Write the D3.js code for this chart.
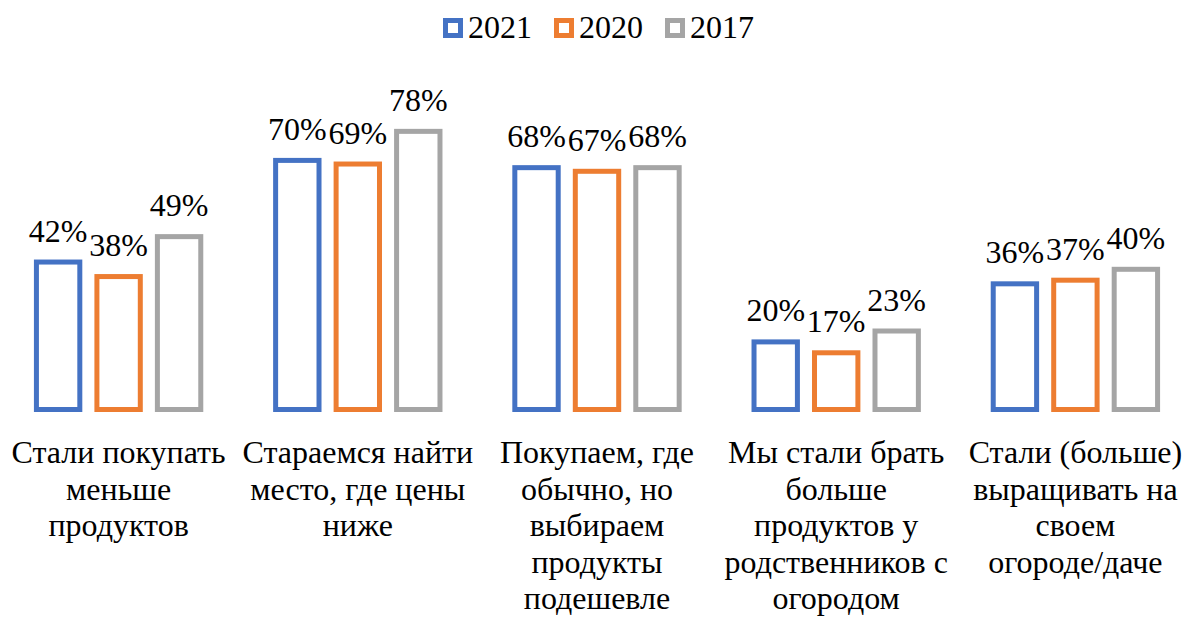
<!DOCTYPE html>
<html>
<head>
<meta charset="utf-8">
<script src="https://cdn.jsdelivr.net/npm/d3@7"></script>
<style>body { margin: 0; background: #fff; }</style>
</head>
<body>
<div class="canvas"></div>
<script>
// Data
const categories = [
    ['Стали покупать', 'меньше', 'продуктов'],
    ['Стараемся найти', 'место, где цены', 'ниже'],
    ['Покупаем, где', 'обычно, но', 'выбираем', 'продукты', 'подешевле'],
    ['Мы стали брать', 'больше', 'продуктов у', 'родственников с', 'огородом'],
    ['Стали (больше)', 'выращивать на', 'своем', 'огороде/даче']
]
const seriesNames = ['2021', '2020', '2017']
const values2021 = [42, 70, 68, 20, 36]
const values2020 = [38, 69, 67, 17, 37]
const values2017 = [49, 78, 68, 23, 40]
const colors = ['#4472C4', '#ED7D31', '#A5A5A5']

const allValues = [values2021, values2020, values2017]
const data = categories.map((c, i) => ({
    key: i,
    lines: c,
    vals: seriesNames.map((s, j) => ({series: s, value: allValues[j][i], color: colors[j]}))
}))

const font = "'Times New Roman', 'Liberation Serif', Tinos, serif"
const fontSize = 32

// Create svg
const width = 1186, height = 617
const svg = d3.select('.canvas')
    .append('svg')
        .attr('width', width)
        .attr('height', height)

const strokeW = 5

// Scales
const x0 = d3.scaleBand()
    .domain(data.map(d => d.key))
    .range([-1, 1195])
    .paddingInner(0.292)
    .paddingOuter(0.146)

const x1 = d3.scaleBand()
    .domain(seriesNames)
    .range([0, x0.bandwidth()])
    .paddingInner(0.2)

const y = d3.scaleLinear()
    .domain([0, 100])
    .range([412, 49])

// Groups
const groups = svg.selectAll('g.group')
    .data(data)
    .enter()
    .append('g')
        .attr('class', 'group')
        .attr('transform', d => `translate(${x0(d.key)}, 0)`)

// Bars (outlined, stroke drawn inside the bar area)
groups.selectAll('rect')
    .data(d => d.vals)
    .enter()
    .append('rect')
        .attr('x', d => x1(d.series) + strokeW / 2)
        .attr('y', d => y(d.value) + strokeW / 2)
        .attr('width', x1.bandwidth() - strokeW)
        .attr('height', d => y(0) - y(d.value) - strokeW)
        .attr('fill', '#fff')
        .attr('stroke', d => d.color)
        .attr('stroke-width', strokeW)

// Value labels
groups.selectAll('text.val')
    .data(d => d.vals)
    .enter()
    .append('text')
        .attr('class', 'val')
        .attr('x', d => x1(d.series) + x1.bandwidth() / 2)
        .attr('y', d => y(d.value) - 18)
        .attr('text-anchor', 'middle')
        .style('font-family', font)
        .style('font-size', fontSize + 'px')
        .attr('fill', '#000')
        .text(d => d.value + '%')

// Category labels
const catLabels = svg.selectAll('text.cat')
    .data(data)
    .enter()
    .append('text')
        .attr('class', 'cat')
        .attr('text-anchor', 'middle')
        .style('font-family', font)
        .style('font-size', fontSize + 'px')
        .attr('fill', '#000')
        .attr('transform', d => `translate(${x0(d.key) + x0.bandwidth() / 2}, 463)`)

catLabels.selectAll('tspan')
    .data(d => d.lines)
    .enter()
    .append('tspan')
        .attr('x', 0)
        .attr('y', (d, i) => i * 36.5)
        .text(d => d)

// Legend
const legend = svg.append('g')
    .attr('transform', 'translate(443, 0)')

const legendItems = legend.selectAll('g')
    .data(seriesNames)
    .enter()
    .append('g')
        .attr('transform', (d, i) => `translate(${i * 111}, 0)`)

legendItems.append('rect')
    .attr('x', 2.5)
    .attr('y', 20.5)
    .attr('width', 15)
    .attr('height', 15)
    .attr('fill', '#fff')
    .attr('stroke', (d, i) => colors[i])
    .attr('stroke-width', 5)

legendItems.append('text')
    .attr('x', 25)
    .attr('y', 38)
    .style('font-family', font)
    .style('font-size', fontSize + 'px')
    .attr('fill', '#000')
    .text(d => d)
</script>
</body>
</html>
